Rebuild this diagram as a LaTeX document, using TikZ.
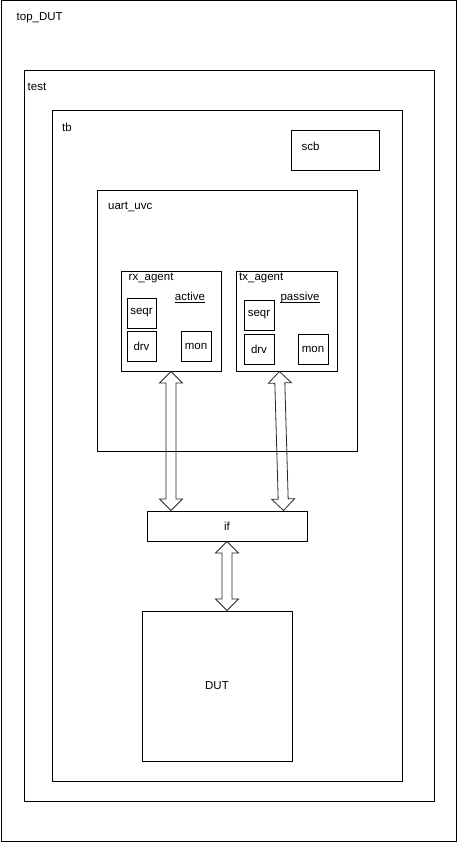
\documentclass[tikz,border=0pt]{standalone}
\usepackage{fontspec}
\setmainfont{Liberation Sans}
\usetikzlibrary{calc}

% hollow double-headed block arrow between two named points
\newcommand{\blockarrow}[2]{%
  \path ($(#1)!11.5pt!(#2)$) coordinate (fa1)
        ($(#2)!11.5pt!(#1)$) coordinate (fa2);
  \draw[flexarrow] (#1)
    -- ($(fa1)!11.5pt!90:(#2)$) -- ($(fa1)!5pt!90:(#2)$)
    -- ($(fa2)!5pt!-90:(#1)$) -- ($(fa2)!11.5pt!-90:(#1)$)
    -- (#2)
    -- ($(fa2)!11.5pt!90:(#1)$) -- ($(fa2)!5pt!90:(#1)$)
    -- ($(fa1)!5pt!-90:(#2)$) -- ($(fa1)!11.5pt!-90:(#2)$)
    -- cycle;}

\begin{document}
\begin{tikzpicture}[x=1pt,y=-1pt,
  box/.style={draw=black, line width=1pt, inner sep=0pt, anchor=north west},
  lbl/.style={font=\fontsize{11.5}{13}\selectfont, inner sep=0pt, anchor=west},
  txt/.style={font=\fontsize{11.5}{13}\selectfont, inner sep=0pt},
  flexarrow/.style={draw=black!85, line width=0.8pt, line join=miter}]
\useasboundingbox (0,0) rectangle (457,842);

% nested containers
\node[box, minimum width=455pt, minimum height=840pt] (top) at (0.5,0.5) {};
\node[box, minimum width=410pt, minimum height=730pt] (test) at (23.5,70.5) {};
\node[box, minimum width=350pt, minimum height=670pt] (tb) at (51.5,110.5) {};
\node[box, minimum width=88pt, minimum height=40pt] (scb) at (290.5,130.5) {};
\node[box, minimum width=260pt, minimum height=260pt] (uvc) at (96.5,190.5) {};

% agents
\node[box, minimum width=100pt, minimum height=100pt] (rx) at (120.5,270.5) {};
\node[box, minimum width=101pt, minimum height=100pt] (tx) at (235.5,270.5) {};

% agent components
\node[box, minimum width=29pt, minimum height=30pt] (rxseqr) at (126.5,297.5) {};
\node[box, minimum width=29pt, minimum height=30pt] (rxdrv) at (126.5,330.5) {};
\node[box, minimum width=30pt, minimum height=30pt] (rxmon) at (180.5,330.5) {};
\node[box, minimum width=30pt, minimum height=30pt] (txseqr) at (243.5,299.5) {};
\node[box, minimum width=30pt, minimum height=30pt] (txdrv) at (243.5,333.5) {};
\node[box, minimum width=30pt, minimum height=30pt] (txmon) at (297.5,333.5) {};

% interface and design under test
\node[box, minimum width=160pt, minimum height=30pt] (if) at (146.5,510.5) {};
\node[box, minimum width=150pt, minimum height=150pt] (dut) at (141.5,610.5) {};

% container labels
\node[lbl] (topl) at ([shift={(16,17)}]top.north west) {top\_DUT};
\node[lbl] (testl) at ([shift={(4,16.5)}]test.north west) {test};
\node[lbl] (tbl) at ([shift={(10.5,16.5)}]tb.north west) {tb};
\node[lbl] (scbl) at ([shift={(11,15.5)}]scb.north west) {scb};
\node[lbl] (uvcl) at ([shift={(11.5,16.5)}]uvc.north west) {uart\_uvc};
\node[lbl] (rxl) at ([shift={(8,7)}]rx.north west) {rx\_agent};
\node[lbl] (txl) at ([shift={(3.5,7)}]tx.north west) {tx\_agent};

% agent modes, underlined
\node[txt] (act) at (190,296.5) {active};
\node[txt] (pas) at (300,297.5) {passive};
\draw[line width=0.9pt] ([yshift=-2.2pt]act.base west) -- ([yshift=-2.2pt]act.base east);
\draw[line width=0.9pt] ([yshift=-2.2pt]pas.base west) -- ([yshift=-2.2pt]pas.base east);

% component labels
\node[txt] (rxseqrl) at (rxseqr) {seqr};
\node[txt] (rxdrvl) at (rxdrv) {drv};
\node[txt] (rxmonl) at (rxmon) {mon};
\node[txt] (txseqrl) at (txseqr) {seqr};
\node[txt] (txdrvl) at (txdrv) {drv};
\node[txt] (txmonl) at (txmon) {mon};
\node[txt] (ifl) at (if) {if};
\node[txt] (dutl) at (dut) {DUT};

% connection points for the block arrows
\coordinate (rxtop) at (rx.south);
\coordinate (rxbot) at (rx.south |- if.north);
\coordinate (txtop) at ([xshift=-7pt]tx.south);
\coordinate (txbot) at ([xshift=-3pt]tx.south |- if.north);
\coordinate (iftop) at (if.south);
\coordinate (ifbot) at (if.south |- dut.north);

\blockarrow{rxtop}{rxbot}
\blockarrow{txtop}{txbot}
\blockarrow{iftop}{ifbot}
\end{tikzpicture}
\end{document}
